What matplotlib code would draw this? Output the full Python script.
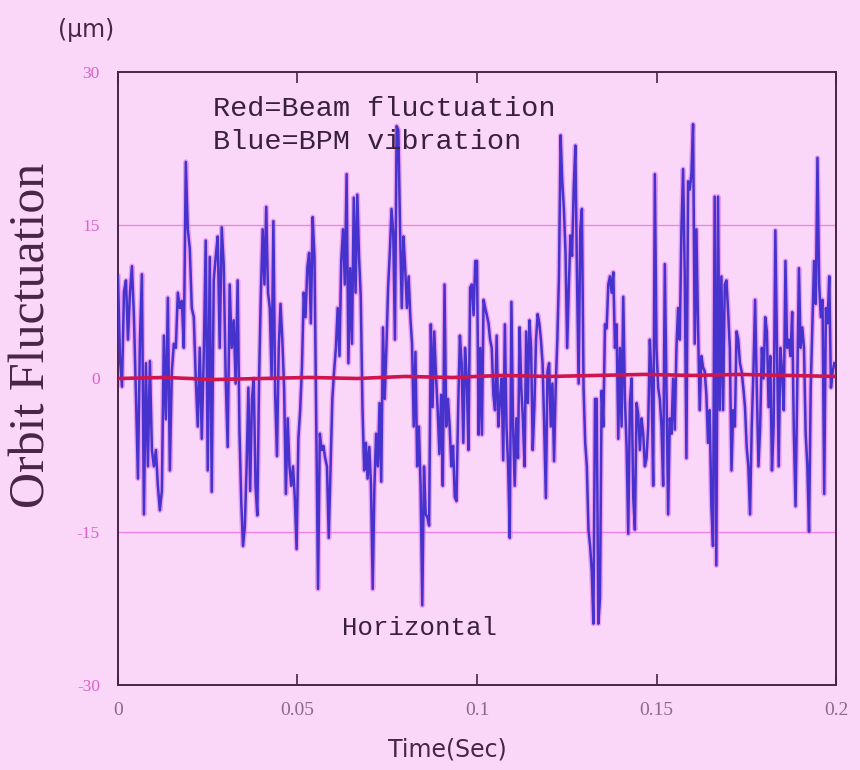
import numpy as np
import matplotlib.pyplot as plt

# BPM vibration (blue), read strip by strip; each strip spans one sixth of the time axis
blue_s1 = [10, 2, -0.8, 8.5, 9.6, 3.8, 8.4, 11, 6, -1.6, -9.8, 3.8, 10.2, -13.3, 1.5, -8.6,
           1.7, -7, -8.6, -7, -10.5, -12.9, -11, 4.2, -4, 7.9, -9, 0.7, 3.4, 3, 8.4, 6.9,
           7.6, 3, 21.2, 14.6, 12.7, 6.9, 6, 0, -4.7, 3, -5.9, 2.2, 13.5, -9, 11.9, -11.1,
           9.6, 11.9, 13.9, 3, 14.8, 11.2, 0, -6.7, 9.2, 3, 5.7, -0.5]
blue_s2 = [9.6, -5, -12, -16.4, -14.5, -8.6, -0.9, -11, -2, 0, -10.5, -13.4, 0, 8.4, 14.6,
           9.2, 16.8, 8.4, 6.9, 0, 15.4, -1.6, -7.6, 3, 7.3, 3.8, -0.9, -11.3, -3.9, -8.6,
           -10.5, -8.6, -11.7, -16.7, -5.9, -3.1, 1.1, 8.4, 6, 10.8, 12.3, 5.4, 15.8, 11.9,
           -4.7, -20.6, -5.4, -7, -6.6, -7.8, -8.6, -15.6, -8.6, -2, 0.7, 3, 6.9, 2.2, 11.5,
           14.6, 9.2, 20, 1.5, 10.8, 3.4, 17.7, 8.4]
blue_s3 = [18, 11.9, 8, -2.8, -9, -6.3, -9.8, -6.7, -10.5, -20.6, -10.5, -5.4, -8.6, -2.4,
           -10.1, 5, -2, 3, 8.9, 12.3, 16.6, 14.3, 3.8, 24.7, 24.3, 14.6, 6.9, 13.9, 10.8,
           6.9, 10, 6, 3.4, -4.7, 2.6, -8.6, -4.7, -10.5, -22.2, -8.6, -13.3, -13.6, -14.4,
           5.3, -2.8, 4.6, 0.3, -3.1, -7.4, -1.6, -10.5, 9.2, -4.7, -2, -4.7, -8.6, -6.6,
           -11.6, -12, -2.8, 4.2, 1.5, -6.3, 3, 0, -7, 8.9, 9.2, 6.2, 11.5]
blue_s4 = [11.5, -5.5, 3, -5.5, 7.7, 6.9, 6.2, 5.4, 3.8, 3, -1.6, -3.1, 4.2, -4.7, -2, 0, -8,
           5.3, -4.7, -8.6, -15.6, 7.5, -4.7, -10.5, -3.9, -7.8, 5, -0.9, -4, -8.6, 4.6,
           -2.4, 5.7, 3, -7, -2.8, 3.8, 6.3, 5.4, 3.8, 1.5, -4.7, -11.7, 0.7, 1.5, -4.7,
           -0.5, -8.1, -0.9, 3.8, 10, 23.8, 19.3, 16.6, 12.4, 3, 8.9, 14, 12, 18.6, 22.8,
           10, -0.5, 14.6, 16.6, -0.9, -6.3, -8.6, -14.8, -16.4, -18.8, -24, -2]
blue_s5 = [-2, -24, -21.5, -1.2, -4.7, 5.3, 4.9, 9.2, 10, 8.4, 10.4, 3, 5.3, -5.9, 3, -4.7,
           8, -2, -6.7, -15.2, -2.4, 0, -11.6, -14.8, -2.4, -3.5, -7, -3.9, -5.4, -8.6,
           -7.8, -4.7, 3.8, 0, -10.5, 20, 3, -0.9, -2, -4.7, -10.5, 11.2, -0.9, -13.3,
           -3.9, -5.4, 0, -5, 3, 6.9, 3.8, 14.6, 20.5, 10, -7.8, 19.3, 18.5, 20, 24.9, 3.4,
           14.6, 5, -3.1, 2.2, 1.1, 0.7, -1.6, -6.3, -3.1, -12.4, -16.4, 17.8]
blue_s6 = [-18.3, 17.8, -3.1, 10, -3.1, 9.2, 9.6, 6.5, 3, -9, -3.1, -4.7, 4.6, 3.8, 1.5,
           0.7, -0.9, -2.8, -6.7, -8.6, -13.3, -4.7, 0.7, 7.7, -0.9, -8.6, -4.7, 3, 0, 6,
           4.6, -2.8, 2.2, -9, -4.7, 14.5, 3, -8.6, 3, 0.7, -3.1, 11.5, 3, 3.8, 2.2, 6.5,
           -5.4, -12.5, -0.9, 10.8, 3, 5, 3, -5.4, -8.6, -15, -0.9, 5.3, 11.5, 7.3, 21.6,
           9.2, 6, 7.7, -11.3, 6.9, 5.4, 10, -0.9, 0.7, 1.5]
blue_strips = [blue_s1, blue_s2, blue_s3, blue_s4, blue_s5, blue_s6]

# Beam fluctuation (red), nearly flat
red_vals = [0.0, 0.1, -0.1, 0.0, 0.1, 0.0, 0.2, 0.1, 0.3, 0.2, 0.3, 0.4, 0.3, 0.4, 0.3, 0.2]

xticks = [0, 0.05, 0.1, 0.15, 0.2]
xtick_labels = ['0', '0.05', '0.1', '0.15', '0.2']
yticks = [-30, -15, 0, 15, 30]

bg = '#fad6f8'
dark = '#4a2448'

# time positions for each strip
edges = np.linspace(0, 0.2, len(blue_strips) + 1)
t_blue, v_blue = [], []
for i, s in enumerate(blue_strips):
    t_blue.extend(np.linspace(edges[i], edges[i + 1], len(s), endpoint=False))
    v_blue.extend(s)
t_red = np.linspace(0, 0.2, len(red_vals))

fig = plt.figure(figsize=(8.6, 7.7), dpi=100, facecolor=bg)
ax = fig.add_axes([0.1372, 0.1104, 0.8349, 0.7961], facecolor=bg)

for y in (-15, 15):
    ax.axhline(y, color='#f07ee6', lw=0.9, zorder=1)

ax.plot(t_blue, v_blue, color='#e070e8', lw=3.8, alpha=0.55, zorder=2)
ax.plot(t_blue, v_blue, color='#4632cc', lw=1.8, zorder=3)
ax.plot(t_red, red_vals, color='#d0144e', lw=2.6, zorder=4)

ax.set_xlim(0, 0.2)
ax.set_ylim(-30, 30)
ax.set_xticks(xticks)
ax.set_xticklabels(xtick_labels, family='Liberation Serif', fontsize=14, color='#8a6a8c')
ax.set_yticks(yticks)
ax.set_yticklabels([str(v) for v in yticks], family='Liberation Serif', fontsize=12.5,
                   color='#d864c8')
ax.tick_params(axis='x', direction='in', length=8, width=1.2, color=dark, top=True,
               pad=12)
ax.tick_params(axis='y', length=0, pad=13)
for sp in ax.spines.values():
    sp.set_color(dark)
    sp.set_linewidth(1.4)

ax.text(0.132, 0.94, 'Red=Beam fluctuation', transform=ax.transAxes,
        family='Liberation Mono', fontsize=20.5, color='#3a2040', va='center')
ax.text(0.132, 0.886, 'Blue=BPM vibration', transform=ax.transAxes,
        family='Liberation Mono', fontsize=20.5, color='#3a2040', va='center')
ax.text(0.42, 0.093, 'Horizontal', transform=ax.transAxes,
        family='Liberation Mono', fontsize=18.5, color='#3a2040', va='center', ha='center')

fig.text(86 / 860, 1 - 30 / 770, '(μm)', family='DejaVu Sans', fontsize=17,
         color=dark, ha='center', va='center')
fig.text(32 / 860, 1 - 335 / 770, 'Orbit Fluctuation', family='Liberation Serif',
         fontsize=36, color=dark, rotation=90, ha='center', va='center')
fig.text(447 / 860, 1 - 750 / 770, 'Time(Sec)', family=['Liberation Sans Narrow', 'DejaVu Sans'],
         fontsize=17, color=dark, ha='center', va='center')

fig.savefig('out.png', dpi=100, facecolor=bg)
